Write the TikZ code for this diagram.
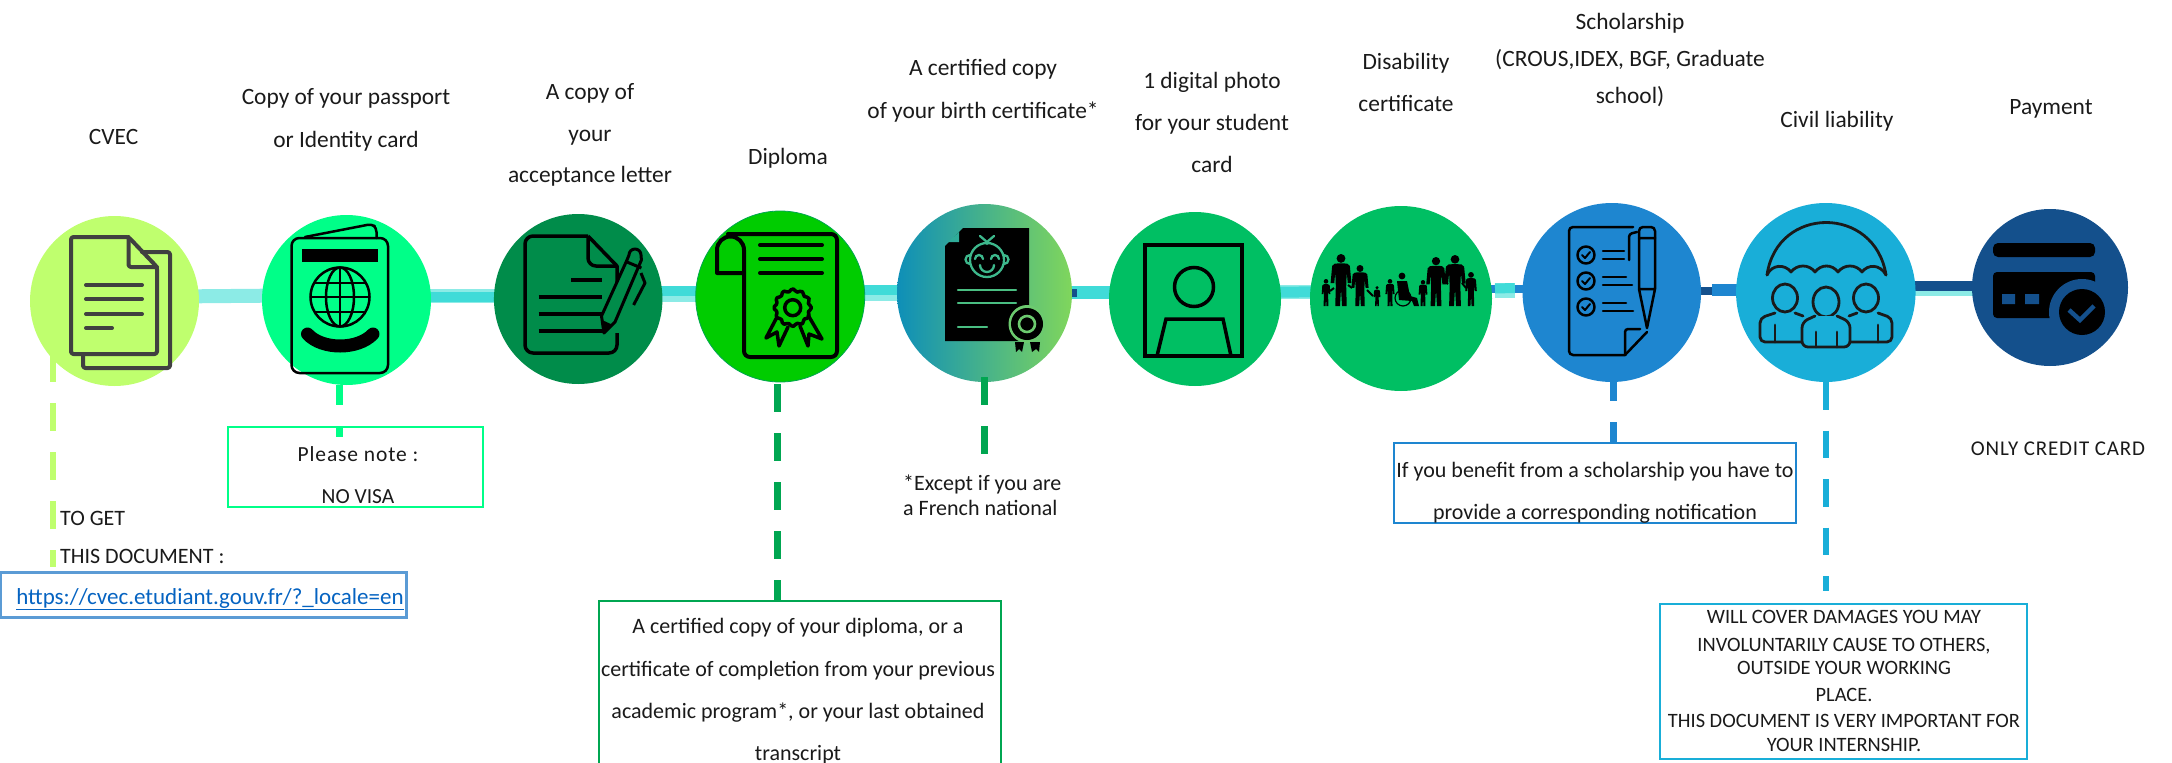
\documentclass[tikz,border=0pt]{standalone}
\usepackage{fontspec}
\setmainfont{Carlito}
\usetikzlibrary{shapes.geometric,backgrounds}
\definecolor{cLime}{HTML}{BFFF6E}
\definecolor{cSpring}{HTML}{00FF88}
\definecolor{cDeep}{HTML}{008C4A}
\definecolor{cGrass}{HTML}{00CC00}
\definecolor{cEmer}{HTML}{00BF63}
\definecolor{cBlue}{HTML}{1E86D0}
\definecolor{cSky}{HTML}{19AED8}
\definecolor{cNavy}{HTML}{14508C}
\definecolor{cDash}{HTML}{00A651}
\definecolor{cTeal}{HTML}{40DBD8}
\definecolor{cPale}{HTML}{8CEBE6}
\definecolor{cLink}{HTML}{0563C1}
\definecolor{cBox}{HTML}{5B9BD5}
\definecolor{cInk}{HTML}{1A1A1A}
\definecolor{cGrey}{HTML}{404040}
\definecolor{cBaby}{HTML}{3DB88C}
\definecolor{gradL}{HTML}{0E8FB8}
\definecolor{gradM}{HTML}{4DB88C}
\definecolor{gradR}{HTML}{80D65C}
\tikzset{
 disc/.style={ellipse,inner sep=0pt,draw=none},
 lbl/.style={font=\fontsize{23.4}{#1}\selectfont,align=center,inner sep=0pt,text=cInk},
 lbl/.default=25,
 low/.style={font=\fontsize{22}{#1}\selectfont,align=center,inner sep=0pt,text=cInk},
 low/.default=25,
 band/.style={line width=#1},
 frame/.style={rectangle,inner sep=0pt,fill=none},
 fine/.style={line width=2.5pt,draw=black,line cap=round,line join=round},
}
\newcommand{\figP}[4]{% x, top, bottom, width factor
 \pgfmathsetmacro{\hh}{#3-#2}
 \begin{scope}[shift={(#1,#2)},x=\hh*#4 pt,y=-\hh pt]
  \fill[black] (0,.085) ellipse ({.085/#4} and .085);
  \fill[black] (-.17,.23) to[out=70,in=180] (-.05,.18) -- (.05,.18) to[out=0,in=110] (.17,.23)
   -- (.2,.56) -- (.13,.56) -- (.11,.34) -- (.1,.62) -- (.11,1) -- (.02,1) -- (0,.66)
   -- (-.02,1) -- (-.11,1) -- (-.1,.62) -- (-.11,.34) -- (-.13,.56) -- (-.2,.56) -- cycle;
 \end{scope}}
\begin{document}
\begin{tikzpicture}[x=1pt,y=-1pt]
\useasboundingbox (0,0) rectangle (2172,763);
% discs
\node[disc,fill=cLime,minimum width=169pt,minimum height=170pt] (e1) at (114.5,301) {};
\node[disc,fill=cSpring,minimum width=169pt,minimum height=170pt] (e2) at (346.5,300) {};
\node[disc,fill=cDeep,minimum width=168.5pt,minimum height=170pt] (e3) at (578.2,299) {};
\node[disc,fill=cGrass,draw=cDash,line width=.8pt,minimum width=169pt,minimum height=171pt] (e4) at (780.2,296.5) {};
\node[disc,left color=gradL,middle color=gradM,right color=gradR,minimum width=175pt,minimum height=178pt] (e5) at (984.5,293) {};
\node[disc,fill=cEmer,minimum width=172pt,minimum height=174pt] (e6) at (1195,299) {};
\node[disc,fill=cEmer,minimum width=182pt,minimum height=185pt] (e7) at (1401,298.5) {};
\node[disc,fill=cBlue,minimum width=178.5pt,minimum height=179pt] (e8) at (1611.8,292.5) {};
\node[disc,fill=cSky,minimum width=179.5pt,minimum height=179pt] (e9) at (1825.8,292.5) {};
\node[disc,fill=cNavy,minimum width=156pt,minimum height=157pt] (e10) at (2050,287.5) {};
% boxes
\node[frame,draw=cSpring,line width=2pt,minimum width=255pt,minimum height=80pt] (bnote) at (355.8,467) {};
\node[frame,draw=cBox,line width=3pt,minimum width=406pt,minimum height=45pt] (blink) at (203.5,594.5) {};
\node[frame,draw=cDash,line width=2pt,minimum width=402pt,minimum height=190pt] (bdip) at (800,696) {};
\node[frame,draw=cBlue,line width=2pt,minimum width=402pt,minimum height=80pt] (bsch) at (1595,483) {};
\node[frame,draw=cSky,line width=2pt,minimum width=367pt,minimum height=155pt] (bciv) at (1843.5,681.5) {};
% free ends of connectors
\coordinate (d1) at (53,354);
\coordinate (d2) at (339,385);
\coordinate (d2e) at (339,437);
\coordinate (d4) at (777.5,384);
\coordinate (d5) at (984.5,377);
\coordinate (d5e) at (984.5,454);
\coordinate (d8) at (1613.5,382);
\coordinate (d9) at (1826,382);
\coordinate (d9e) at (1826,591);
% horizontal connectors, behind the discs
\begin{scope}[on background layer]
 \draw[band=14pt,cPale] ([yshift=4pt]e1.center) -- ([yshift=5pt]e2.center);
 \draw[band=14pt,cPale] ([yshift=4pt]e2.center) -- ([yshift=3pt]e3.center);
 \draw[band=10pt,cTeal] ([yshift=3pt]e2.center) -- ([yshift=2pt]e3.center);
 \draw[band=16pt,cPale] ([yshift=5pt]e3.center) -- ([yshift=2.5pt]e4.center);
 \draw[band=10pt,cTeal] ([yshift=8pt]e3.center) -- ([yshift=5.5pt]e4.center);
 \draw[band=16pt,cPale] ([yshift=3.5pt]e4.center) -- ([yshift=0pt]e5.center);
 \draw[band=10pt,cTeal] ([yshift=6.5pt]e4.center) -- ([yshift=3pt]e5.center);
 \draw[band=13pt,cTeal] ([yshift=.5pt]e5.center) -- ([yshift=6.5pt]e6.center);
 \draw[band=8pt,cNavy] ([yshift=0pt]e5.center) -- ([xshift=92pt,yshift=0pt]e5.center);
 \draw[band=14pt,cPale] ([yshift=7pt]e6.center) -- ([yshift=6.5pt]e7.center);
 \draw[band=11pt,cTeal] ([yshift=6.5pt]e6.center) -- ([yshift=7pt]e7.center);
 \draw[band=8pt,cBlue] ([yshift=9.5pt]e7.center) -- ([yshift=3.5pt]e8.center);
 \draw[band=15pt,cPale] ([xshift=94pt,yshift=8pt]e7.center) -- ([xshift=-97pt,yshift=2pt]e8.center);
 \draw[band=10pt,cTeal] ([xshift=94pt,yshift=10pt]e7.center) -- ([xshift=-97pt,yshift=4.5pt]e8.center);
 \draw[band=8pt,cNavy] ([yshift=1.5pt]e8.center) -- ([xshift=-80pt,yshift=1.5pt]e9.center);
 \draw[band=12pt,cBlue] ([xshift=100pt,yshift=2.5pt]e8.center) -- ([yshift=2.5pt]e9.center);
 \draw[band=15pt,cPale] ([yshift=4pt]e9.center) -- ([yshift=-1pt]e10.center);
 \draw[band=10pt,cNavy] ([yshift=6.5pt]e9.center) -- ([yshift=1.5pt]e10.center);
\end{scope}
% vertical dashed connectors
\draw[line width=6.5pt,cLime,dash pattern=on 28pt off 21pt,shorten >=4pt] (d1) -- (blink.north -| d1);
\draw[line width=7pt,cSpring,dash pattern=on 20pt off 21pt] (d2) -- (d2e);
\draw[line width=7pt,cDash,dash pattern=on 28pt off 21pt] (d4) -- (bdip.north -| d4);
\draw[line width=7pt,cDash,dash pattern=on 28pt off 21pt] (d5) -- (d5e);
\draw[line width=7pt,cBlue,dash pattern=on 19pt off 21pt on 22pt off 2pt] (d8) -- (bsch.north -| d8);
\draw[line width=6.5pt,cSky,dash pattern=on 27.5pt off 21pt] (d9) -- (d9e);
% top labels
\node[lbl] (t1) at (113.6,136.5) {CVEC};
\node[lbl=43] (t2) at (346,120) {Copy of your passport\\or Identity card};
\node[lbl=41.5] (t3) at (590,135) {A copy of\\your\\acceptance letter};
\node[lbl] (t4) at (788,158.5) {Diploma};
\node[lbl=43] (t5) at (983,90.5) {A certified copy\\of your birth certificate*};
\node[lbl=42] (t6) at (1212,122.5) {1 digital photo\\for your student\\card};
\node[lbl=41.5] (t7) at (1406,82.5) {Disability\\certificate};
\node[lbl=37] (t8) at (1630,60) {Scholarship\\(CROUS,IDEX, BGF, Graduate\\school)};
\node[lbl] (t9) at (1837,121) {Civil liability};
\node[lbl] (t10) at (2051,109) {Payment};
% lower texts
\node[font=\fontsize{21.5}{42.5}\selectfont,align=center,inner sep=0pt,text=cInk] (n2) at (358,475) {\addfontfeatures{LetterSpace=4}Please note :\\NO VISA};
\node[low=38,align=left,anchor=west] (n1) at (60,537.5) {TO GET\\THIS DOCUMENT :};
\node[font=\fontsize{23}{25}\selectfont,inner sep=0pt,text=cLink] (n1b) at (210,599) {\underline{https://cvec.etudiant.gouv.fr/?\_locale=en}};
\node[low=42.3] (n4) at (798,691.5) {A certified copy of your diploma, or a\\certificate of completion from your previous\\academic program*, or your last obtained\\transcript};
\node[low=25,align=left,anchor=west] (n5) at (903,495.5) {*Except if you are\\a French national};
\node[low=42.5] (n8) at (1595,492.5) {If you benefit from a scholarship you have to\\provide a corresponding notification};
\node[font=\fontsize{20.4}{25}\selectfont,align=center,inner sep=0pt,text=cInk] (n9) at (1844,681) {WILL COVER DAMAGES YOU MAY\\[3pt]INVOLUNTARILY CAUSE TO OTHERS,\\[-2pt]OUTSIDE YOUR WORKING\\[2pt]PLACE.\\[1pt]THIS DOCUMENT IS VERY IMPORTANT FOR\\[-1pt]YOUR INTERNSHIP.};
\node[font=\fontsize{21}{25}\selectfont,inner sep=0pt,text=cInk] (n10) at (2058,449) {\addfontfeatures{LetterSpace=4}ONLY CREDIT CARD};
% icon 1: documents
\begin{scope}[line width=4pt,line cap=round,line join=round,rounded corners=2.5pt]
 \draw[cGrey] (142,252) -- (170,252) -- (170,368) -- (83,368) -- (83,354);
 \draw[cGrey] (128.5,237) -- (71,237) -- (71,354) -- (157,354) -- (157,267) -- cycle;
 \draw[cGrey] (128.5,237) -- (128.5,267) -- (157,267);
 \draw[cGrey] (86,285) -- (142,285) (86,299) -- (142,299) (86,314) -- (142,314) (86,328) -- (112,328);
\end{scope}
% icon 2: passport
\draw[fine,rounded corners=8pt] (291.5,238) rectangle (388,373);
\draw[fine,rounded corners=4pt] (305,237) -- (372,224) -- (376.5,228) -- (376.5,238);
\fill[black] (302,249) rectangle (378,262);
\draw[fine] (340,297) circle (29.5);
\draw[fine] (340,297) ellipse (14 and 29.5);
\draw[fine] (340,267.5) -- (340,326.5) (310.5,297) -- (369.5,297) (315,283) -- (365,283) (315,312) -- (365,312);
\draw[black,line width=13pt,line cap=round] (307.5,334) .. controls (322,350) and (358,350) .. (373,334);
% icon 3: document and pen
\begin{scope}[line width=3.5pt,line join=round]
 \draw[rounded corners=8pt] (617,333) -- (617,353) -- (525,353) -- (525,236) -- (588,236);
 \draw (588,236) -- (617,266) -- (617,290);
 \draw[rounded corners=8pt] (588,236) -- (588,266) -- (617,266);
 \draw (571,280) -- (601.5,280) (538.6,297) -- (601.5,297) (538.6,314) -- (601.5,314) (538.6,331) -- (604,331);
 \draw[line width=3pt,fill=cDeep] (601.5,316) -- (627,260) -- (629,255) arc (180:360:6) -- (641.4,260) -- (615,322) -- (604,333) -- cycle;
 \draw[line width=3pt] (627,262) -- (641.4,268) (641,273) -- (645,283) -- (633.6,305);
 \fill (604,333) -- (602,320) -- (613,325) -- cycle;
\end{scope}
% icon 4: diploma
\begin{scope}[line width=4pt,line cap=round,line join=round]
 \draw[rounded corners=6pt] (728,234) -- (837,234) -- (837,357) -- (744,357) -- (744,250);
 \draw (744,273) -- (717,273) -- (717,250) arc (180:360:13.5);
 \draw (760,245) -- (822,245) (760,259) -- (822,259) (760,273) -- (822,273);
 \draw[line width=3.5pt] plot[smooth cycle,samples=49,domain=0:352.5] ({792.7+(17.5+1.3*cos(12*\x))*cos(\x)},{307.7+(17.5+1.3*cos(12*\x))*sin(\x)});
 \draw[line width=3.5pt] (792.7,307.7) circle (8);
 \draw[line width=3.5pt] (777,317) -- (766,338) -- (777,332) -- (779,346) -- (788,327);
 \draw[line width=3.5pt] (808,315) -- (822,339) -- (809,334) -- (808,346) -- (800,326);
\end{scope}
% icon 5: birth certificate
\fill[black] (963,228) -- (1029,228) -- (1029,341) -- (945,341) -- (945,246) -- cycle;
\fill[cBaby!70!gradL] (959,232) -- (959,242) -- (948,242) -- cycle;
\begin{scope}[line width=2.3pt,line cap=round]
 \draw[cBaby] (987,260) circle (17);
 \draw[cBaby] (970,255) arc (270:90:4.5) (1004,264) arc (90:-90:4.5);
 \draw[cBaby] (980,236) -- (987,242) -- (994,236) (987,242) -- (987,244);
 \draw[cBaby] (975,259) arc (180:360:4) (991,259) arc (180:360:4);
 \draw[cBaby] (980,265) arc (180:0:7);
 \draw[cBaby!80!gradR] (958,290) -- (1016,290) (958,303) -- (1016,303) (958,327) -- (987,327);
\end{scope}
\fill[gradM!40!gradR] (1027,324) ellipse (18.5 and 19);
\fill[black] (1027,324) circle (16);
\draw[gradM!40!gradR,line width=2.6pt] (1027,324) circle (8);
\fill[black] (1015,342) -- (1024,342) -- (1022,352) -- (1019,349) -- (1016,352) -- cycle;
\fill[black] (1030,342) -- (1040,342) -- (1039,352) -- (1036,349) -- (1032,352) -- cycle;
% icon 6: photo
\begin{scope}[line width=3.5pt,line join=miter]
 \draw (1145,245) rectangle (1242,356);
 \draw (1194,287) circle (19.5);
 \draw (1157,356) -- (1166,319) -- (1223,319) -- (1231,356);
\end{scope}
% icon 7: people
\figP{1326}{279}{306}{.8}
\figP{1341}{254}{306}{1}
\figP{1360}{265}{306}{1.05}
\draw[black,line width=2pt] (1348,285) -- (1352,288) (1330,291) -- (1334,288) (1367,290) -- (1373,296);
\figP{1377}{286}{306}{.85}
\figP{1390}{279}{306}{.85}
\fill[black] (1402,276) circle (3.4);
\fill[black] (1397,281) -- (1407,281) -- (1410,296) -- (1417,298) -- (1419,306) -- (1414,306) -- (1412,301) -- (1399,300) -- cycle;
\draw[black,line width=1.2pt] (1403,298) circle (8);
\figP{1423}{280}{306}{.85}
\figP{1436}{257}{306}{1}
\figP{1455}{255}{306}{1.05}
\figP{1471}{272}{306}{.85}
\draw[black,line width=2pt] (1445,282) -- (1448,284) (1462,283) -- (1466,288);
% icon 8: checklist
\begin{scope}[fine]
 \draw[rounded corners=4pt] (1633,227) -- (1569,227) -- (1569,355) -- (1625,355);
 \draw (1625,355) -- (1647,332);
 \draw[rounded corners=3pt] (1625,355) -- (1625,329) -- (1640,329);
 \draw[rounded corners=3pt] (1629,260) -- (1629,234) -- (1637,232);
 \foreach \yy in {255,281,307} {
  \draw (1586,\yy) circle (8.5);
  \draw[line width=2pt] (1582,\yy) -- (1585,\yy+3) -- (1590,\yy-3);
 }
 \draw (1603,251) -- (1624,251) (1603,259) -- (1624,259) (1603,277) -- (1626,277) (1603,285) -- (1632,285) (1603,303) -- (1626,303) (1603,311) -- (1633,311);
 \draw[rounded corners=4pt] (1639,238) -- (1639,227) -- (1655,227) -- (1655,238);
 \draw (1639,238) -- (1655,238) (1639,238) -- (1639,289) -- (1647,328) -- (1655,289) -- (1655,238) (1639,289) -- (1655,289);
\end{scope}
% icon 9: umbrella and people
\begin{scope}[line width=2.8pt,line cap=round,line join=round]
 \draw[draw=cInk] (1767,275) .. controls (1777,205) and (1875,205) .. (1886,275);
 \draw[draw=cInk] (1767,275) .. controls (1772,264) and (1785,264) .. (1791,272) .. controls (1797,264) and (1809,264) .. (1815,272) .. controls (1821,264) and (1832,264) .. (1838,272) .. controls (1844,264) and (1856,264) .. (1862,272) .. controls (1868,264) and (1880,264) .. (1886,275);
 \draw[draw=cInk] (1785,298) ellipse (12.5 and 14);
 \draw[draw=cInk] (1866,298) ellipse (12.5 and 14);
 \draw[draw=cInk,rounded corners=5pt] (1802,342) -- (1760,342) -- (1760,318) -- (1775,313) (1795,313) -- (1803,316);
 \draw[draw=cInk,rounded corners=5pt] (1850,342) -- (1892,342) -- (1892,318) -- (1878,313) (1857,313) -- (1849,316);
 \draw[draw=cInk,fill=cSky] (1826,302) ellipse (13 and 15);
 \draw[draw=cInk,fill=cSky,rounded corners=6pt] (1815,316) -- (1802,322) -- (1802,347) -- (1850,347) -- (1850,322) -- (1837,316);
 \draw[draw=cInk] (1775,325) -- (1775,342) (1878,325) -- (1878,342) (1816,332) -- (1816,347) (1837,332) -- (1837,347);
\end{scope}
% icon 10: credit card
\fill[black,rounded corners=5pt] (1993,257) -- (1993,243) -- (2095,243) -- (2095,257) -- cycle;
\fill[black,rounded corners=4pt] (1993,272) -- (2095,272) -- (2095,318) -- (1993,318) -- cycle;
\fill[cNavy] (2082,312) circle (33);
\fill[black] (2082,312) circle (23);
\fill[cNavy] (2002,294) rectangle (2015,304) (2025,294) rectangle (2039,304);
\draw[cNavy,line width=4.5pt] (2069,310) -- (2080,320) -- (2094,306);
\end{tikzpicture}
\end{document}
